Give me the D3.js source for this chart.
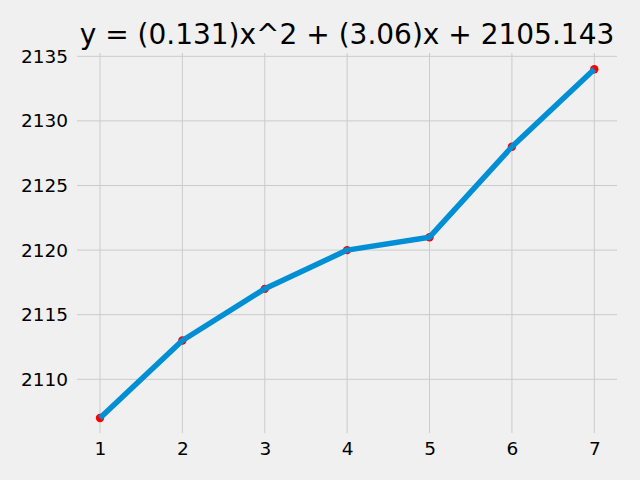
<!DOCTYPE html>
<html><head><meta charset="utf-8">
<script src="https://cdn.jsdelivr.net/npm/d3@7"></script>
<style>body{margin:0;background:#f0f0f0}svg{display:block}text{font-family:"DejaVu Sans",sans-serif;fill:#000}</style>
</head><body>
<script>
const xValues = [1,2,3,4,5,6,7];
const yValues = [2107,2113,2117,2120,2121,2128,2134];
const xTicks = [1,2,3,4,5,6,7];
const yTicks = [2110,2115,2120,2125,2130,2135];
const title = "y = (0.131)x^2 + (3.06)x + 2105.143";

(function(){
const W=640,H=480;
const pL=77,pR=617,pT=53,pB=433;
const svg=d3.select("body").append("svg").attr("width",W).attr("height",H);
svg.append("rect").attr("width",W).attr("height",H).attr("fill","#f0f0f0");

const x=d3.scaleLinear().domain([1,7]).range([100,594.3]);
const y=d3.scaleLinear().domain([2110,2135]).range([379.3,56.3]);

svg.append("g").selectAll("line").data(yTicks).join("line")
  .attr("x1",pL).attr("x2",pR).attr("y1",d=>y(d)).attr("y2",d=>y(d))
  .attr("stroke","#cbcbcb").attr("stroke-width",1);
svg.append("g").selectAll("line").data(xTicks).join("line")
  .attr("y1",pT).attr("y2",pB).attr("x1",d=>x(d)).attr("x2",d=>x(d))
  .attr("stroke","#cbcbcb").attr("stroke-width",1);

const xa=svg.append("g").attr("transform",`translate(0,${pB})`)
  .call(d3.axisBottom(x).tickValues(xTicks).tickSize(0).tickPadding(9).tickFormat(d3.format("d")));
const ya=svg.append("g").attr("transform",`translate(${pL},0)`)
  .call(d3.axisLeft(y).tickValues(yTicks).tickSize(0).tickPadding(9).tickFormat(d3.format("d")));
[xa,ya].forEach(g=>{g.select(".domain").remove();g.selectAll("text").attr("font-size","18.5px").attr("font-family","DejaVu Sans").attr("fill","#000");});

const data=xValues.map((v,i)=>[v,yValues[i]]);
svg.append("g").selectAll("circle").data(data).join("circle")
  .attr("cx",d=>x(d[0])).attr("cy",d=>y(d[1])).attr("r",4.2).attr("fill","#ff0000");
svg.append("path").datum(data).attr("fill","none").attr("stroke","#008fd5")
  .attr("stroke-width",5.5).attr("stroke-linecap","butt").attr("stroke-linejoin","round")
  .attr("d",d3.line().x(d=>x(d[0])).y(d=>y(d[1])));

svg.append("text").attr("x",(pL+pR)/2).attr("y",43.5).attr("text-anchor","middle")
  .attr("font-size","28px").text(title);
})();
</script>
</body></html>
